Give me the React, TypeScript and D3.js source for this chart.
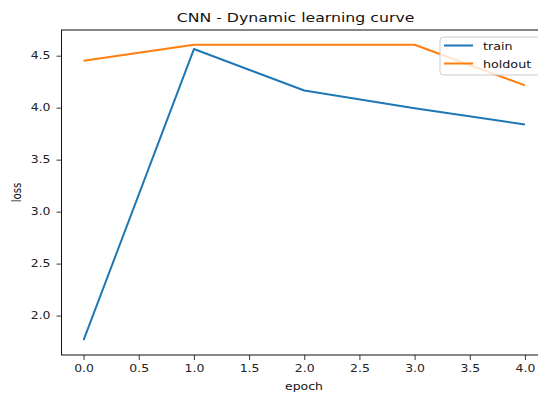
import React, { useEffect, useRef } from 'react';
import * as d3 from 'd3';

const epochs = [0, 1, 2, 3, 4];
const trainLoss = [1.763, 4.564, 4.165, 3.995, 3.838];
const holdoutLoss = [4.452, 4.605, 4.605, 4.605, 4.215];
const xTicks = [0, 0.5, 1, 1.5, 2, 2.5, 3, 3.5, 4];
const yTicks = [2.0, 2.5, 3.0, 3.5, 4.0, 4.5];
const seriesNames = ['train', 'holdout'];
const colors = ['#1f77b4', '#ff7f0e'];

const App = () => {
  const ref = useRef<SVGSVGElement>(null);

  useEffect(() => {
    document.body.style.margin = '0';
    const width = 538,
      height = 396;
    // plot area (right edge falls outside the picture, like the reference)
    const left = 61.5,
      top = 30,
      right = 547,
      bottom = 355;
    const font = 'DejaVu Sans, sans-serif';
    // the reference text is stretched sideways
    const sx = 1.22;
    const fs = 10.2;

    const svg = d3.select(ref.current);
    svg.selectAll('*').remove();
    svg.attr('width', width).attr('height', height);

    const x = d3.scaleLinear().domain([-0.2, 4.2]).range([left, right]);
    const yMin = d3.min([...trainLoss, ...holdoutLoss]) as number;
    const yMax = d3.max([...trainLoss, ...holdoutLoss]) as number;
    const pad = (yMax - yMin) * 0.05;
    const y = d3.scaleLinear().domain([yMin - pad, yMax + pad]).range([bottom, top]);

    // x axis
    const xAxis = svg
      .append('g')
      .attr('transform', `translate(0,${bottom})`)
      .call(
        d3
          .axisBottom(x)
          .tickValues(xTicks)
          .tickFormat(d3.format('.1f'))
          .tickSize(5)
          .tickPadding(5)
          .tickSizeOuter(0)
      );
    xAxis.select('.domain').remove();
    xAxis
      .selectAll('text')
      .attr('font-family', font)
      .attr('font-size', fs)
      .attr('fill', '#222')
      .attr('transform', `scale(${sx},1)`);
    xAxis.selectAll('line').attr('stroke', '#222').attr('stroke-width', 0.9);

    // y axis
    const yAxis = svg
      .append('g')
      .attr('transform', `translate(${left},0)`)
      .call(
        d3
          .axisLeft(y)
          .tickValues(yTicks)
          .tickFormat(d3.format('.1f'))
          .tickSize(5)
          .tickPadding(6)
          .tickSizeOuter(0)
      );
    yAxis.select('.domain').remove();
    yAxis
      .selectAll('text')
      .attr('font-family', font)
      .attr('font-size', fs)
      .attr('fill', '#222')
      .attr('x', -11 / sx)
      .attr('transform', `scale(${sx},1)`);
    yAxis.selectAll('line').attr('stroke', '#222').attr('stroke-width', 0.9);

    // spines
    svg
      .append('rect')
      .attr('x', left)
      .attr('y', top)
      .attr('width', right - left)
      .attr('height', bottom - top)
      .attr('fill', 'none')
      .attr('stroke', '#111')
      .attr('stroke-width', 1);

    // lines
    const line = d3
      .line<number>()
      .x((d, i) => x(epochs[i]))
      .y((d) => y(d));

    [trainLoss, holdoutLoss].forEach((vals, i) => {
      svg
        .append('path')
        .datum(vals)
        .attr('d', line)
        .attr('fill', 'none')
        .attr('stroke', colors[i])
        .attr('stroke-width', 2)
        .attr('stroke-linejoin', 'round');
    });

    // title + labels
    svg
      .append('text')
      .attr('transform', `translate(295.5,22) scale(${sx},1)`)
      .attr('text-anchor', 'middle')
      .attr('font-family', font)
      .attr('font-size', 12.9)
      .attr('fill', '#111')
      .text('CNN - Dynamic learning curve');

    svg
      .append('text')
      .attr('transform', `translate(304,390) scale(${sx},1)`)
      .attr('text-anchor', 'middle')
      .attr('font-family', font)
      .attr('font-size', fs)
      .attr('fill', '#111')
      .text('epoch');

    svg
      .append('text')
      .attr('transform', `translate(21,${(top + bottom) / 2}) rotate(-90) scale(1,${sx})`)
      .attr('text-anchor', 'middle')
      .attr('font-family', font)
      .attr('font-size', fs)
      .attr('fill', '#111')
      .text('loss');

    // legend
    const lg = svg.append('g').attr('transform', 'translate(440,37)');
    lg.append('rect')
      .attr('width', 102)
      .attr('height', 38)
      .attr('rx', 3)
      .attr('fill', 'white')
      .attr('fill-opacity', 0.8)
      .attr('stroke', '#cccccc')
      .attr('stroke-width', 1);
    seriesNames.forEach((name, i) => {
      const ly = 8.5 + i * 18;
      lg.append('line')
        .attr('x1', 4)
        .attr('x2', 33)
        .attr('y1', ly)
        .attr('y2', ly)
        .attr('stroke', colors[i])
        .attr('stroke-width', 2);
      lg.append('text')
        .attr('transform', `translate(43,${ly + 4}) scale(${sx},1)`)
        .attr('font-family', font)
        .attr('font-size', 10.4)
        .attr('fill', '#111')
        .text(name);
    });
  }, []);

  return <svg ref={ref} style={{ display: 'block' }} />;
};

export default App;
